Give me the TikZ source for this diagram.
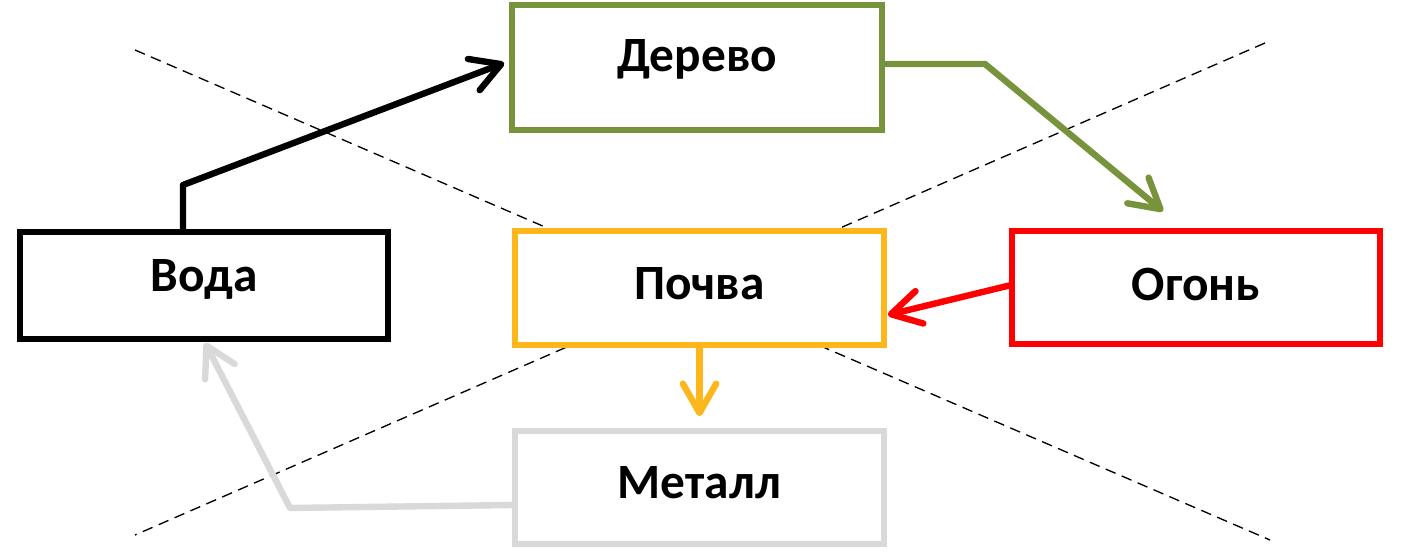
\documentclass[tikz,border=0pt]{standalone}
\usepackage{fontspec}
\setmainfont{Carlito}
\usetikzlibrary{arrows.meta,calc}
\definecolor{cgreen}{HTML}{77933C}
\definecolor{corange}{HTML}{FDB71C}
\definecolor{cred}{HTML}{FF0000}
\definecolor{cgray}{HTML}{D9D9D9}
\begin{document}
\begin{tikzpicture}[x=0.75pt,y=-0.75pt,
  box/.style={draw=#1,line width=4.2pt,fill=white,rectangle,inner sep=0pt,
    font=\fontsize{37}{44}\selectfont\bfseries,text height=24pt},
  conn/.style={draw=#1,line width=4.8pt,line cap=round,line join=round,
    -{Straight Barb[length=22pt,width=25pt,round]}},
  divider/.style={draw=black,line width=1pt,dash pattern=on 8pt off 5pt}]
\useasboundingbox (0,0) rectangle (1405,555);
% dividing dashed lines
\coordinate (d1a) at (135,50);
\coordinate (d1b) at (1270,540);
\coordinate (d2a) at (1265,43);
\coordinate (d2b) at (135,535);
\draw[divider] (d1a) -- (d1b);
\draw[divider] (d2a) -- (d2b);
% boxes
\node[box=cgreen,minimum width=370*0.75pt,minimum height=125*0.75pt,text depth=18pt] (derevo) at (697,67.5) {Дерево};
\node[box=black,minimum width=368*0.75pt,minimum height=107*0.75pt,text depth=15pt] (voda) at (204,285.5) {Вода};
\node[box=corange,minimum width=369*0.75pt,minimum height=114*0.75pt,text depth=6pt] (pochva) at (699.5,288) {Почва};
\node[box=cred,minimum width=368*0.75pt,minimum height=113*0.75pt,text depth=5pt] (ogon) at (1196,287.5) {Огонь};
\node[box=cgray,minimum width=369*0.75pt,minimum height=113*0.75pt,text depth=7pt] (metall) at (699.5,487.5) {Металл};
% connectors
\coordinate (bk) at (183,185);
\coordinate (gk) at (985,64);
\coordinate (yk) at (290,508);
\draw[conn=black] (voda.north -| bk) -- (bk) -- ($(derevo.west)+(-5,-4.5)$);
\draw[conn=cgreen] (derevo.east |- gk) -- (gk) -- ($(ogon.north)+(-33,-17)$);
\draw[conn=cred] ($(ogon.west)+(0,-2)$) -- ($(pochva.east)+(1,27)$);
\draw[conn=corange] (pochva.south) -- ($(metall.north)+(0,-12)$);
\draw[conn=cgray] ($(metall.west)+(0,17.5)$) -- (yk) -- ($(voda.south)+(1,1)$);
\end{tikzpicture}
\end{document}
